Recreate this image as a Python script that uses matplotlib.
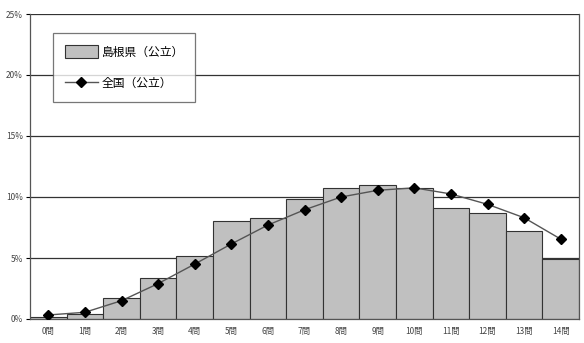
import matplotlib.pyplot as plt
import numpy as np

plt.rcParams['font.family'] = ['Noto Sans CJK JP', 'DejaVu Sans']

labels = [f'{i}問' for i in range(15)]
shimane = [0.2, 0.4, 1.7, 3.35, 5.2, 8.0, 8.3, 9.8, 10.7, 10.95, 10.7, 9.1, 8.7, 7.2, 4.9]
zenkoku = [0.33, 0.55, 1.5, 2.9, 4.5, 6.15, 7.7, 8.95, 10.0, 10.55, 10.75, 10.25, 9.4, 8.3, 6.55]
yticks = [0, 5, 10, 15, 20, 25]

fig = plt.figure(figsize=(5.84, 3.43), dpi=100)
ax = fig.add_axes([30 / 584, 24 / 343, 549 / 584, 305 / 343])

x = np.arange(len(labels))
bars = ax.bar(x, shimane, width=1.0, color='#c0c0c0', edgecolor='#333333', linewidth=0.8,
              label='島根県（公立）', zorder=2)
line, = ax.plot(x, zenkoku, color='#555555', linewidth=1.0, marker='D', markersize=5,
                markerfacecolor='black', markeredgecolor='black', label='全国（公立）', zorder=3)

for y in yticks[1:]:
    ax.axhline(y, color='#333333', linewidth=0.9, zorder=1)

ax.set_xlim(-0.5, len(labels) - 0.5)
ax.set_ylim(0, 25)
ax.set_yticks(yticks)
ax.set_yticklabels([f'{v}%' for v in yticks], fontsize=6, color='#444444')
ax.set_xticks(x)
ax.set_xticklabels(labels, fontsize=6, color='#444444')
ax.tick_params(axis='x', length=0, pad=6)
ax.tick_params(axis='y', length=3, width=0.8, pad=2)
for s in ax.spines.values():
    s.set_color('#555555')
    s.set_linewidth(0.9)
ax.spines['top'].set_visible(False)

leg = ax.legend(handles=[bars, line], loc='upper left', bbox_to_anchor=(23 / 549, 1 - 19 / 305),
                borderaxespad=0, fontsize=8.5, frameon=True, fancybox=False, borderpad=1.0,
                labelspacing=1.5, handlelength=2.8, handleheight=1.4, handletextpad=0.3)
leg.get_frame().set_edgecolor('#555555')
leg.get_frame().set_linewidth(0.9)
leg.set_zorder(5)

fig.savefig('out.png', dpi=100)
